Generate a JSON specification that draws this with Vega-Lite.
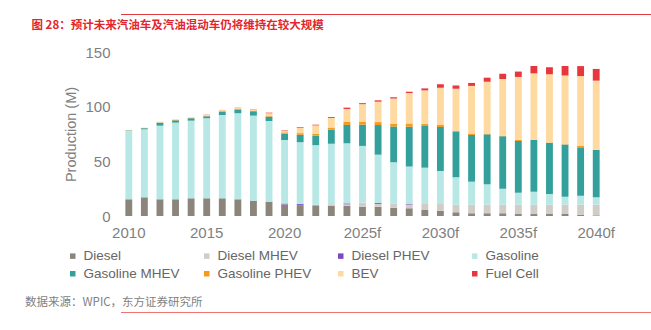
{
  "$schema": "https://vega.github.io/schema/vega-lite/v6.json",
  "padding": {"left": 24, "top": 14, "right": 0, "bottom": 5},
  "spacing": 4,
  "config": {"view": {"stroke": null}, "font": "Liberation Sans"},
  "vconcat": [
    {
      "width": 627, "height": 1,
      "data": {"values": []},
      "mark": {"type": "point", "opacity": 0},
      "encoding": {},
      "view": {"fill": "#e4393c", "stroke": null}
    },
    {
      "width": 483, "height": 164,
      "title": {"text": "图 28：预计未来汽油车及汽油混动车仍将维持在较大规模", "anchor": "start", "dx": 7, "offset": 14, "font": "Noto Sans CJK SC", "fontSize": 11.5, "fontWeight": "bold", "color": "#e3262d"},
      "data": {"values": [
        {"year": "2010", "Diesel": 15.3, "Diesel MHEV": 0, "Diesel PHEV": 0, "Gasoline": 62.5, "Gasoline MHEV": 0.5, "Gasoline PHEV": 0, "BEV": 0.4, "Fuel Cell": 0},
        {"year": "2011", "Diesel": 17.1, "Diesel MHEV": 0, "Diesel PHEV": 0, "Gasoline": 62.2, "Gasoline MHEV": 1.0, "Gasoline PHEV": 0.1, "BEV": 0.4, "Fuel Cell": 0},
        {"year": "2012", "Diesel": 15.3, "Diesel MHEV": 0, "Diesel PHEV": 0, "Gasoline": 67.3, "Gasoline MHEV": 2.8, "Gasoline PHEV": 0.2, "BEV": 0.6, "Fuel Cell": 0},
        {"year": "2013", "Diesel": 15.3, "Diesel MHEV": 0, "Diesel PHEV": 0, "Gasoline": 70.1, "Gasoline MHEV": 2.1, "Gasoline PHEV": 0.3, "BEV": 0.7, "Fuel Cell": 0},
        {"year": "2014", "Diesel": 16.2, "Diesel MHEV": 0, "Diesel PHEV": 0, "Gasoline": 71.0, "Gasoline MHEV": 2.2, "Gasoline PHEV": 0.3, "BEV": 0.6, "Fuel Cell": 0},
        {"year": "2015", "Diesel": 16.2, "Diesel MHEV": 0, "Diesel PHEV": 0, "Gasoline": 73.2, "Gasoline MHEV": 1.8, "Gasoline PHEV": 0.4, "BEV": 0.9, "Fuel Cell": 0.2},
        {"year": "2016", "Diesel": 16.2, "Diesel MHEV": 0, "Diesel PHEV": 0, "Gasoline": 76.2, "Gasoline MHEV": 3.0, "Gasoline PHEV": 0.5, "BEV": 1.0, "Fuel Cell": 0.1},
        {"year": "2017", "Diesel": 15.3, "Diesel MHEV": 0, "Diesel PHEV": 0, "Gasoline": 78.7, "Gasoline MHEV": 3.0, "Gasoline PHEV": 0.8, "BEV": 1.1, "Fuel Cell": 0.2},
        {"year": "2018", "Diesel": 14.0, "Diesel MHEV": 0, "Diesel PHEV": 0, "Gasoline": 77.8, "Gasoline MHEV": 4.0, "Gasoline PHEV": 0.6, "BEV": 1.3, "Fuel Cell": 0.2},
        {"year": "2019", "Diesel": 13.1, "Diesel MHEV": 0, "Diesel PHEV": 0, "Gasoline": 73.8, "Gasoline MHEV": 3.9, "Gasoline PHEV": 0.6, "BEV": 2.6, "Fuel Cell": 0.5},
        {"year": "2020", "Diesel": 10.3, "Diesel MHEV": 0.2, "Diesel PHEV": 0.9, "Gasoline": 58.1, "Gasoline MHEV": 5.8, "Gasoline PHEV": 1.2, "BEV": 1.6, "Fuel Cell": 0.4},
        {"year": "2021f", "Diesel": 10.0, "Diesel MHEV": 0.2, "Diesel PHEV": 0.9, "Gasoline": 56.4, "Gasoline MHEV": 6.8, "Gasoline PHEV": 1.5, "BEV": 4.9, "Fuel Cell": 0.6},
        {"year": "2022f", "Diesel": 9.8, "Diesel MHEV": 0.4, "Diesel PHEV": 0, "Gasoline": 54.6, "Gasoline MHEV": 8.7, "Gasoline PHEV": 1.8, "BEV": 7.6, "Fuel Cell": 0.6},
        {"year": "2023f", "Diesel": 9.5, "Diesel MHEV": 1.3, "Diesel PHEV": 0, "Gasoline": 55.3, "Gasoline MHEV": 13.0, "Gasoline PHEV": 1.8, "BEV": 8.8, "Fuel Cell": 0.8},
        {"year": "2024f", "Diesel": 9.2, "Diesel MHEV": 1.5, "Diesel PHEV": 0.8, "Gasoline": 55.0, "Gasoline MHEV": 16.8, "Gasoline PHEV": 2.7, "BEV": 11.9, "Fuel Cell": 1.2},
        {"year": "2025f", "Diesel": 8.5, "Diesel MHEV": 3.7, "Diesel PHEV": 0, "Gasoline": 51.9, "Gasoline MHEV": 19.5, "Gasoline PHEV": 2.4, "BEV": 16.3, "Fuel Cell": 0.9},
        {"year": "2026f", "Diesel": 8.5, "Diesel MHEV": 2.5, "Diesel PHEV": 0.8, "Gasoline": 44.3, "Gasoline MHEV": 27.1, "Gasoline PHEV": 2.7, "BEV": 18.7, "Fuel Cell": 1.2},
        {"year": "2027f", "Diesel": 7.6, "Diesel MHEV": 3.7, "Diesel PHEV": 0, "Gasoline": 37.9, "Gasoline MHEV": 32.6, "Gasoline PHEV": 2.4, "BEV": 23.2, "Fuel Cell": 1.2},
        {"year": "2028f", "Diesel": 7.0, "Diesel MHEV": 3.5, "Diesel PHEV": 0.8, "Gasoline": 34.0, "Gasoline MHEV": 36.3, "Gasoline PHEV": 3.0, "BEV": 27.8, "Fuel Cell": 1.2},
        {"year": "2029f", "Diesel": 5.5, "Diesel MHEV": 5.5, "Diesel PHEV": 0, "Gasoline": 33.2, "Gasoline MHEV": 38.1, "Gasoline PHEV": 1.8, "BEV": 30.8, "Fuel Cell": 1.8},
        {"year": "2030f", "Diesel": 4.9, "Diesel MHEV": 6.1, "Diesel PHEV": 0, "Gasoline": 30.2, "Gasoline MHEV": 40.3, "Gasoline PHEV": 1.8, "BEV": 34.1, "Fuel Cell": 3.1},
        {"year": "2031f", "Diesel": 3.4, "Diesel MHEV": 7.0, "Diesel PHEV": 0, "Gasoline": 25.1, "Gasoline MHEV": 41.8, "Gasoline PHEV": 0.5, "BEV": 38.5, "Fuel Cell": 3.0},
        {"year": "2032f", "Diesel": 2.5, "Diesel MHEV": 7.9, "Diesel PHEV": 0, "Gasoline": 21.0, "Gasoline MHEV": 42.7, "Gasoline PHEV": 0.9, "BEV": 44.0, "Fuel Cell": 2.7},
        {"year": "2033f", "Diesel": 2.5, "Diesel MHEV": 7.9, "Diesel PHEV": 0, "Gasoline": 18.6, "Gasoline MHEV": 45.7, "Gasoline PHEV": 0.3, "BEV": 47.8, "Fuel Cell": 3.7},
        {"year": "2034f", "Diesel": 2.5, "Diesel MHEV": 7.9, "Diesel PHEV": 0, "Gasoline": 14.6, "Gasoline MHEV": 47.9, "Gasoline PHEV": 0.3, "BEV": 52.2, "Fuel Cell": 4.6},
        {"year": "2035f", "Diesel": 1.8, "Diesel MHEV": 8.5, "Diesel PHEV": 0, "Gasoline": 11.0, "Gasoline MHEV": 47.3, "Gasoline PHEV": 1.0, "BEV": 57.6, "Fuel Cell": 4.9},
        {"year": "2036f", "Diesel": 1.8, "Diesel MHEV": 8.5, "Diesel PHEV": 0, "Gasoline": 11.9, "Gasoline MHEV": 47.3, "Gasoline PHEV": 0.2, "BEV": 60.8, "Fuel Cell": 6.7},
        {"year": "2037f", "Diesel": 1.8, "Diesel MHEV": 8.5, "Diesel PHEV": 0, "Gasoline": 9.8, "Gasoline MHEV": 46.9, "Gasoline PHEV": 0.2, "BEV": 62.4, "Fuel Cell": 6.4},
        {"year": "2038f", "Diesel": 1.8, "Diesel MHEV": 8.5, "Diesel PHEV": 0, "Gasoline": 7.3, "Gasoline MHEV": 47.9, "Gasoline PHEV": 0.2, "BEV": 62.9, "Fuel Cell": 8.5},
        {"year": "2039f", "Diesel": 1.2, "Diesel MHEV": 9.1, "Diesel PHEV": 0, "Gasoline": 8.2, "Gasoline MHEV": 44.3, "Gasoline PHEV": 1.2, "BEV": 64.0, "Fuel Cell": 9.1},
        {"year": "2040f", "Diesel": 0.6, "Diesel MHEV": 9.8, "Diesel PHEV": 0, "Gasoline": 6.7, "Gasoline MHEV": 43.3, "Gasoline PHEV": 0.2, "BEV": 63.2, "Fuel Cell": 10.7}
      ]},
      "transform": [
        {"fold": ["Diesel", "Diesel MHEV", "Diesel PHEV", "Gasoline", "Gasoline MHEV", "Gasoline PHEV", "BEV", "Fuel Cell"], "as": ["type", "value"]},
        {"calculate": "indexof(['Diesel', 'Diesel MHEV', 'Diesel PHEV', 'Gasoline', 'Gasoline MHEV', 'Gasoline PHEV', 'BEV', 'Fuel Cell'], datum.type)", "as": "stackOrder"}
      ],
      "mark": {"type": "bar"},
      "encoding": {
        "x": {
          "field": "year", "type": "ordinal", "sort": null,
          "scale": {"paddingInner": 0.56, "paddingOuter": 0.28},
          "axis": {
            "values": ["2010", "2015", "2020", "2025f", "2030f", "2035f", "2040f"],
            "domain": false, "ticks": false, "tickSize": 0, "labelAngle": 0, "labelPadding": 9,
            "labelFontSize": 15, "labelColor": "#7f7f7f", "labelFont": "Liberation Sans",
            "title": "数据来源：WPIC，东方证券研究所",
            "titleX": -96.5, "titleY": 86, "titleAlign": "left", "titleBaseline": "middle",
            "titleFont": "Noto Sans CJK SC", "titleFontSize": 11.5, "titleFontWeight": "normal", "titleColor": "#7f7f7f"
          }
        },
        "y": {
          "field": "value", "type": "quantitative", "stack": "zero",
          "scale": {"domain": [0, 150], "nice": false},
          "axis": {
            "values": [0, 50, 100, 150], "domain": false, "ticks": false, "tickSize": 0, "grid": false,
            "labelPadding": 11, "labelFontSize": 15, "labelColor": "#7f7f7f", "labelFont": "Liberation Sans",
            "title": "Production (M)", "titleFontSize": 14.5, "titleFontWeight": "normal", "titleColor": "#7f7f7f",
            "titleFont": "Liberation Sans", "titlePadding": 6
          }
        },
        "order": {"field": "stackOrder", "type": "quantitative", "sort": "ascending"},
        "color": {
          "field": "type", "type": "nominal",
          "sort": ["Diesel", "Diesel MHEV", "Diesel PHEV", "Gasoline", "Gasoline MHEV", "Gasoline PHEV", "BEV", "Fuel Cell"],
          "scale": {
            "domain": ["Diesel", "Diesel MHEV", "Diesel PHEV", "Gasoline", "Gasoline MHEV", "Gasoline PHEV", "BEV", "Fuel Cell"],
            "range": ["#8c857b", "#d0cdc9", "#7b48c2", "#b7e8e6", "#34a09b", "#f59a1b", "#fed9a0", "#e8363d"]
          },
          "legend": {
            "title": null, "orient": "none", "legendX": -55, "legendY": 235, "columns": 4,
            "direction": "horizontal", "gridAlign": "all", "columnPadding": 20, "rowPadding": 3,
            "symbolType": "square", "symbolSize": 30, "symbolStrokeWidth": 0, "labelOffset": 4,
            "labelFontSize": 13.5, "labelColor": "#666666", "labelFont": "Liberation Sans", "padding": 0
          }
        }
      }
    },
    {
      "width": 627, "height": 1,
      "data": {"values": []},
      "mark": {"type": "point", "opacity": 0},
      "encoding": {},
      "view": {"fill": "#ee7470", "stroke": null}
    }
  ]
}
